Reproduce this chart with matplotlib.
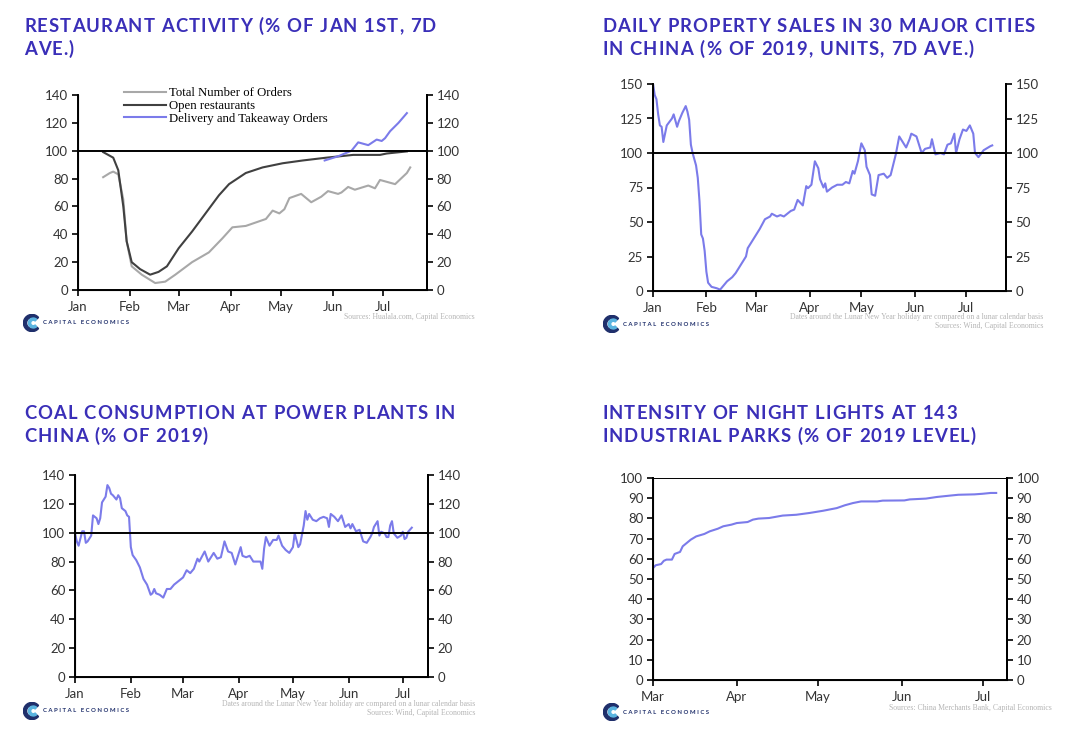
import numpy as np
import matplotlib
matplotlib.use("Agg")
import matplotlib.pyplot as plt
import matplotlib.dates as mdates
from matplotlib.patches import Wedge
from matplotlib.font_manager import FontProperties

# ----------------------------------------------------------------
# Data (days counted from Jan 1 2020, panel 4 from Mar 1 2020)
# ----------------------------------------------------------------
orders_days = [15, 19, 21, 24, 27, 29, 32, 38, 42, 46, 52, 58, 68, 78, 86, 92, 100,
               112, 116, 120, 123, 126, 133, 139, 145, 149, 155, 157, 161, 165,
               173, 177, 180, 183, 189, 196]
orders_vals = [81, 84, 85, 83, 65, 35, 17, 11, 8, 5, 6, 11, 20, 27, 37, 45, 46,
               51, 57, 55, 58, 66, 69, 63, 67, 71, 69, 70, 74, 72, 75, 73, 79,
               78, 76, 84]
orders_days += [198]
orders_vals += [88]

open_days = [15, 21, 24, 27, 29, 32, 37, 43, 48, 53, 60, 68, 76, 84, 90, 100, 110,
             122, 134, 148, 164, 180, 184, 196]
open_vals = [99, 95, 86, 60, 35, 20, 15, 11, 13, 17, 30, 42, 55, 68, 76, 84, 88,
             91, 93, 95, 97, 97, 98, 99.5]

delivery_days = [147, 155, 163, 167, 173, 178, 181, 183, 186, 191, 196]
delivery_vals = [93, 96, 100, 106, 104, 108, 107, 109, 114, 120, 127]

property_days = [0, 1, 2, 3, 4, 5, 6, 7, 8, 11, 12, 14, 15, 17, 19, 20, 21, 22, 23,
                 25, 26, 27, 28, 29, 30, 31, 32, 34, 37, 39, 41, 43, 46, 48, 52,
                 54, 55, 57, 60, 62, 65, 68, 69, 72, 74, 76, 78, 80, 82, 84, 87,
                 89, 90, 92, 94, 96, 97, 99, 100, 101, 104, 107, 110, 112, 114,
                 116, 117, 119, 121, 123, 124, 126, 127, 129, 131, 134, 136, 138,
                 141, 143, 145, 147, 149, 150, 153, 156, 158, 161, 162, 164, 167,
                 169, 171, 173, 175, 176, 178, 180, 182, 184, 186, 187, 189, 192,
                 196, 197]
property_vals = [150, 142, 139, 128, 120, 119, 108, 114, 120, 125, 128, 119, 123,
                 129, 134, 130, 124, 106, 100, 91, 82, 65, 41, 38, 29, 14, 6, 3,
                 2, 1, 4, 7, 10, 13, 21, 25, 31, 35, 41, 45, 52, 54, 56, 54, 55,
                 54, 56, 58, 59, 66, 62, 76, 74.5, 77, 94, 89, 81, 75, 78, 72, 75,
                 77, 77, 79, 78, 87, 85, 94, 107, 102, 90, 84, 70, 69, 84, 85, 82,
                 84, 99, 112, 108, 104, 110, 114, 112, 100, 103, 104, 110, 99, 100,
                 99, 106, 107, 114, 100, 110, 117, 116, 120, 114, 100, 97, 102,
                 105, 105.5]

coal_days = [0, 1, 2, 4, 5, 6, 7, 9, 10, 12, 13, 14, 15, 17, 18, 19, 20, 21, 23,
             24, 25, 26, 28, 29, 30, 31, 32, 34, 36, 38, 40, 42, 43, 44, 45, 47,
             49, 51, 53, 55, 56, 58, 60, 62, 64, 66, 68, 69, 72, 74, 77, 79, 81,
             83, 85, 87, 89, 92, 93, 95, 97, 99, 103, 104, 105, 106, 108, 110,
             112, 113, 115, 117, 119, 121, 122, 124, 125, 127, 128, 129, 130,
             132, 134, 136, 138, 140, 141, 142, 144, 146, 148, 150, 152, 153,
             154, 156, 158, 160, 162, 164, 165, 166, 168, 169, 170, 172, 173,
             174, 175, 176, 177, 179, 181, 182, 183, 184, 185, 187]
coal_vals = [99.5, 94, 91, 101, 101, 93, 94, 98, 112, 110, 106, 110, 121, 125,
             133, 131, 127, 126, 123, 126, 124, 117, 115, 112, 111, 90, 84.5,
             81, 76, 68, 64, 57, 58, 61, 58, 57, 55, 61, 61, 64, 65, 67, 69,
             74, 72, 75, 82, 80, 87, 80, 86, 82, 83, 94, 87, 86, 78, 90, 84,
             83, 84, 80, 80, 75, 89, 97, 91, 95, 95, 98, 91, 88, 86, 90, 99.5,
             90, 92, 105, 115, 109, 113, 109, 108, 110, 111, 110, 104, 113,
             111, 108, 112, 104, 106, 103, 106, 101, 102, 94, 93, 97, 99.5, 104,
             108, 98, 100.7, 99.5, 97, 97, 105, 108, 99.5, 96.5, 98, 100.7,
             95.6, 96.5, 100.7, 103.5]

lights_days = [0, 1, 3, 4, 5, 7, 8, 10, 11, 14, 16, 19, 21, 24, 26, 29, 31, 35, 37,
               39, 43, 48, 53, 58, 63, 68, 71, 74, 77, 83, 85, 93, 95, 101, 105,
               110, 113, 119, 122, 125, 127]
lights_vals = [55.4, 56.8, 57.4, 59, 59.6, 59.6, 62.4, 63.4, 66.2, 69.5, 71.1,
               72.3, 73.6, 74.9, 76.1, 76.9, 77.7, 78.2, 79.4, 79.9, 80.2, 81.4,
               81.8, 82.7, 83.8, 85.1, 86.5, 87.6, 88.4, 88.4, 88.8, 88.9, 89.4,
               89.8, 90.6, 91.3, 91.7, 91.9, 92.2, 92.6, 92.6]

titles = [["RESTAURANT ACTIVITY (% OF JAN 1ST, 7D", "AVE.)"],
          ["DAILY PROPERTY SALES IN 30 MAJOR CITIES", "IN CHINA (% OF 2019, UNITS, 7D AVE.)"],
          ["COAL CONSUMPTION AT POWER PLANTS IN", "CHINA (% OF 2019)"],
          ["INTENSITY OF NIGHT LIGHTS AT 143", "INDUSTRIAL PARKS (% OF 2019 LEVEL)"]]
lunar_note = "Dates around the Lunar New Year holiday are compared on a lunar calendar basis"
sources = ["Sources: Hualala.com, Capital Economics",
           "Sources: Wind, Capital Economics",
           "Sources: Wind, Capital Economics",
           "Sources: China Merchants Bank, Capital Economics"]

# ----------------------------------------------------------------
BLUE = "#7b7bea"
TITLE_C = "#3a2fb8"
JAN1 = np.datetime64("2020-01-01")
MAR1 = np.datetime64("2020-03-01")
W, H = 1067, 737


def to_dates(base, days):
    return base + np.round(np.array(days)).astype("timedelta64[D]")


def fx(px):
    return px / W


def fy(py):
    return 1 - py / H


fig = plt.figure(figsize=(10.67, 7.37), dpi=100)
fig.patch.set_facecolor("white")
renderer = fig.canvas.get_renderer()


def make_axes(x0, x1, y0, y1, xstart, xend, ymax, ystep):
    ax = fig.add_axes([fx(x0), fy(y1), fx(x1 - x0), (y1 - y0) / H])
    ax.set_xlim(mdates.date2num(xstart), mdates.date2num(xend))
    ax.set_ylim(0, ymax)
    ax.set_yticks(np.arange(0, ymax + 1, ystep))
    ax.xaxis.set_major_locator(mdates.MonthLocator())
    ax.xaxis.set_major_formatter(mdates.DateFormatter("%b"))
    ax.spines["top"].set_visible(False)
    for s in ["left", "right", "bottom"]:
        ax.spines[s].set_linewidth(1.4)
    ax.tick_params(direction="out", length=4, width=1.2, labelsize=9.5,
                   colors="black", labelcolor="#333333", pad=3)
    ax.tick_params(axis="x", pad=4)
    ax.axhline(100, color="black", linewidth=1.4, zorder=3)
    ax2 = ax.twinx()
    ax2.set_ylim(0, ymax)
    ax2.set_yticks(np.arange(0, ymax + 1, ystep))
    ax2.spines["top"].set_visible(False)
    ax2.spines["right"].set_linewidth(1.4)
    ax2.tick_params(direction="out", length=4, width=1.2, labelsize=9.5,
                    labelcolor="#333333", pad=3)
    for a in (ax, ax2):
        for lab in a.get_xticklabels() + a.get_yticklabels():
            lab.set_fontfamily("Lato")
    return ax


def logo(x, y):
    la = fig.add_axes([fx(x - 9), fy(y + 9), fx(18), 18 / H])
    la.set_xlim(-1, 1)
    la.set_ylim(-1, 1)
    la.set_aspect("equal")
    la.axis("off")
    la.add_patch(Wedge((0, 0), 0.95, 40, 320, width=0.35, color="#1f2f6b"))
    la.add_patch(Wedge((0.15, 0), 0.55, 50, 310, width=0.25, color="#5ab4e0"))
    fig.text(fx(x + 11), fy(y), "C A P I T A L   E C O N O M I C S", fontsize=4.3,
             fontweight="bold", color="#1f2f6b", va="center", ha="left",
             fontfamily="Lato")


TITLE_FP = FontProperties(family="Lato", weight="bold", size=13.3)


def title(x, y_base, lines, spacing=1.1, gap=23):
    # Lato bold with extra letter spacing, drawn char by char
    for i, line in enumerate(lines):
        cx = x
        for ch in line:
            fig.text(fx(cx), fy(y_base + i * gap), ch, fontproperties=TITLE_FP,
                     color=TITLE_C, va="baseline", ha="left")
            w, _, _ = renderer.get_text_width_height_descent(ch, TITLE_FP, ismath=False)
            cx += w + spacing


def note(x_right, y, txt):
    fig.text(fx(x_right), fy(y), txt, fontsize=5.6, color="#b5b5b5",
             fontfamily="Liberation Serif", ha="right", va="center")


# Panel 1: restaurants
ax1 = make_axes(78, 427, 95, 290, JAN1, JAN1 + np.timedelta64(208, "D"), 140, 20)
ax1.plot(to_dates(JAN1, orders_days), orders_vals, color="#a8a8a8", lw=1.5,
         label="Total Number of Orders")
ax1.plot(to_dates(JAN1, open_days), open_vals, color="#404040", lw=1.5,
         label="Open restaurants")
ax1.plot(to_dates(JAN1, delivery_days), delivery_vals, color=BLUE, lw=1.5,
         label="Delivery and Takeaway Orders")
leg = ax1.legend(loc="upper left", bbox_to_anchor=(fx(124), fy(87.5)),
                 bbox_transform=fig.transFigure, frameon=False,
                 handlelength=3.3, handletextpad=0.2, labelspacing=0.05,
                 borderpad=0, borderaxespad=0,
                 prop={"family": "Liberation Serif", "size": 9.2})
title(24, 32, titles[0])
note(475, 317, sources[0])
logo(32, 323)

# Panel 2: property sales
ax2 = make_axes(653, 1006, 84, 291, JAN1, JAN1 + np.timedelta64(205, "D"), 150, 25)
ax2.plot(to_dates(JAN1, property_days), property_vals, color=BLUE, lw=1.5)
title(602, 32, titles[1])
note(1043, 317, lunar_note)
note(1043, 326, sources[1])
logo(612, 324)

# Panel 3: coal
ax3 = make_axes(75, 428, 475, 677, JAN1, JAN1 + np.timedelta64(196, "D"), 140, 20)
ax3.plot(to_dates(JAN1, coal_days), coal_vals, color=BLUE, lw=1.5)
title(24, 419, titles[2])
note(475, 704, lunar_note)
note(475, 713, sources[2])
logo(32, 711)

# Panel 4: night lights
ax4 = make_axes(653, 1007, 478, 680, MAR1, MAR1 + np.timedelta64(131, "D"), 100, 10)
ax4.plot(to_dates(MAR1, lights_days), lights_vals, color=BLUE, lw=1.5)
title(602, 419, titles[3])
note(1052, 708, sources[3])
logo(612, 712)

fig.savefig("out.png", dpi=100, facecolor="white")
